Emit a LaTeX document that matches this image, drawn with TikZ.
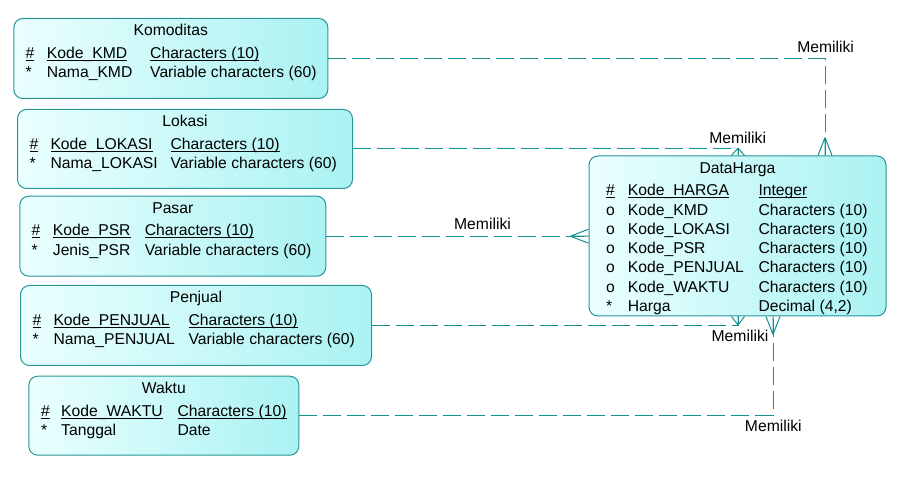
\documentclass[tikz,border=0pt]{standalone}
\usepackage{fontspec}
\setmainfont{Liberation Sans}
\usetikzlibrary{positioning,calc}

\definecolor{boxline}{RGB}{40,150,150}
\definecolor{boxleft}{RGB}{235,255,255}
\definecolor{boxright}{RGB}{170,242,242}
\definecolor{relline}{RGB}{20,145,145}

% underline that sits on the underscore level
\newcommand{\keyline}[1]{\setbox0\hbox{#1}\rlap{\rule[-2.4pt]{\wd0}{0.9pt}}\box0}

% one attribute row: box, row, mark x, name x, type x, mark, name, type
\newcommand{\attrrow}[8]{%
  \node[txt] (#1-m#2) at ([shift={(#3,{40.3+19.3*(#2-1)})}]#1.north west) {#6};
  \node[txt] (#1-n#2) at ([shift={(#4,{40.3+19.3*(#2-1)})}]#1.north west) {#7};
  \node[txt] (#1-t#2) at ([shift={(#5,{40.3+19.3*(#2-1)})}]#1.north west) {#8};
}

% crow's foot: tip, end on the box, half spread
\newcommand{\crowfoot}[3]{%
  \draw[foot] (#1) -- (#2) (#1) -- ($(#2)+#3$) (#1) -- ($(#2)-#3$);
}

\begin{document}
\begin{tikzpicture}[x=1pt,y=-1pt,
    entity/.style={draw=boxline, line width=1pt, rounded corners=9pt,
      left color=boxleft, right color=boxright, anchor=north west, inner sep=0pt},
    txt/.style={anchor=base west, inner sep=0pt, font=\fontsize{15.7}{18}\selectfont},
    ttl/.style={anchor=base, inner sep=0pt, font=\fontsize{15.7}{18}\selectfont},
    lbl/.style={anchor=base, inner sep=0pt, font=\fontsize{15.7}{18}\selectfont},
    rel/.style={relline, line width=1pt, dash pattern=on 18pt off 6pt},
    foot/.style={relline, line width=1pt}]

    \useasboundingbox (0,0) rectangle (900,478);

    % entities
    \node[entity, minimum width=314pt, minimum height=80pt] (komoditas) at (13.3,18) {};
    \node[entity, minimum width=335pt, minimum height=79pt] (lokasi) at (17,109) {};
    \node[entity, minimum width=306pt, minimum height=80pt] (pasar) at (19.3,195.7) {};
    \node[entity, minimum width=351pt, minimum height=80pt] (penjual) at (20,285) {};
    \node[entity, minimum width=270pt, minimum height=79pt] (waktu) at (28.3,375.7) {};
    \node[entity, minimum width=297pt, minimum height=160pt] (dataharga) at (588.5,155.5) {};

    \node[ttl] (komoditas-title) at ([shift={(0,18)}]komoditas.north) {Komoditas};
    \attrrow{komoditas}{1}{12}{33.4}{136.7}{\keyline{\#}}{\keyline{Kode\_KMD}}{\keyline{Characters (10)}}
    \attrrow{komoditas}{2}{12}{33.4}{136.7}{*}{Nama\_KMD}{Variable characters (60)}

    \node[ttl] (lokasi-title) at ([shift={(0,18)}]lokasi.north) {Lokasi};
    \attrrow{lokasi}{1}{12.3}{33.3}{153.3}{\keyline{\#}}{\keyline{Kode\_LOKASI}}{\keyline{Characters (10)}}
    \attrrow{lokasi}{2}{12.3}{33.3}{153.3}{*}{Nama\_LOKASI}{Variable characters (60)}

    \node[ttl] (pasar-title) at ([shift={(0,18)}]pasar.north) {Pasar};
    \attrrow{pasar}{1}{12}{33.4}{125.4}{\keyline{\#}}{\keyline{Kode\_PSR}}{\keyline{Characters (10)}}
    \attrrow{pasar}{2}{12}{33.4}{125.4}{*}{Jenis\_PSR}{Variable characters (60)}

    \node[ttl] (penjual-title) at ([shift={(0,18)}]penjual.north) {Penjual};
    \attrrow{penjual}{1}{12.3}{33.3}{168.3}{\keyline{\#}}{\keyline{Kode\_PENJUAL}}{\keyline{Characters (10)}}
    \attrrow{penjual}{2}{12.3}{33.3}{168.3}{*}{Nama\_PENJUAL}{Variable characters (60)}

    \node[ttl] (waktu-title) at ([shift={(0,18)}]waktu.north) {Waktu};
    \attrrow{waktu}{1}{12.7}{32.7}{149}{\keyline{\#}}{\keyline{Kode\_WAKTU}}{\keyline{Characters (10)}}
    \attrrow{waktu}{2}{12.7}{32.7}{149}{*}{Tanggal}{Date}

    \node[ttl] (dataharga-title) at ([shift={(0,18)}]dataharga.north) {DataHarga};
    \attrrow{dataharga}{1}{17.5}{39.2}{169.8}{\keyline{\#}}{\keyline{Kode\_HARGA}}{\keyline{Integer}}
    \attrrow{dataharga}{2}{17.5}{39.2}{169.8}{o}{Kode\_KMD}{Characters (10)}
    \attrrow{dataharga}{3}{17.5}{39.2}{169.8}{o}{Kode\_LOKASI}{Characters (10)}
    \attrrow{dataharga}{4}{17.5}{39.2}{169.8}{o}{Kode\_PSR}{Characters (10)}
    \attrrow{dataharga}{5}{17.5}{39.2}{169.8}{o}{Kode\_PENJUAL}{Characters (10)}
    \attrrow{dataharga}{6}{17.5}{39.2}{169.8}{o}{Kode\_WAKTU}{Characters (10)}
    \attrrow{dataharga}{7}{17.5}{39.2}{169.8}{*}{Harga}{Decimal (4,2)}

    % ends on DataHarga
    \coordinate (dh-kmd) at ([xshift=236.5pt]dataharga.north west);
    \coordinate (dh-lok) at ([xshift=149.5pt]dataharga.north west);
    \coordinate (dh-psr) at (pasar.east -| dataharga.west);
    \coordinate (dh-pjl) at ([xshift=149.5pt]dataharga.south west);
    \coordinate (dh-wkt) at ([xshift=184.5pt]dataharga.south west);

    % relations
    \draw[rel] (komoditas.east) -| (dh-kmd);
    \draw[rel] (lokasi.east) -| (dh-lok);
    \draw[rel] (pasar.east) -- (dh-psr);
    \draw[rel] (penjual.east) -| (dh-pjl);
    \draw[rel] (waktu.east) -| (dh-wkt);

    \crowfoot{$(dh-kmd)+(0,-18)$}{dh-kmd}{(7,0)}
    \crowfoot{$(dh-lok)+(0,-7.5)$}{dh-lok}{(6.5,0)}
    \crowfoot{$(dh-psr)+(-18,0)$}{dh-psr}{(0,7)}
    \crowfoot{$(dh-pjl)+(0,8.5)$}{dh-pjl}{(6.5,0)}
    \crowfoot{$(dh-wkt)+(0,18)$}{dh-wkt}{(7,0)}

    \node[lbl] (lbl-kmd) at (825.6,52.7) {Memiliki};
    \node[lbl] (lbl-lok) at (737.7,143.3) {Memiliki};
    \node[lbl] (lbl-psr) at (482.5,230) {Memiliki};
    \node[lbl] (lbl-pjl) at (740,341.7) {Memiliki};
    \node[lbl] (lbl-wkt) at (773.3,431.7) {Memiliki};
\end{tikzpicture}
\end{document}
